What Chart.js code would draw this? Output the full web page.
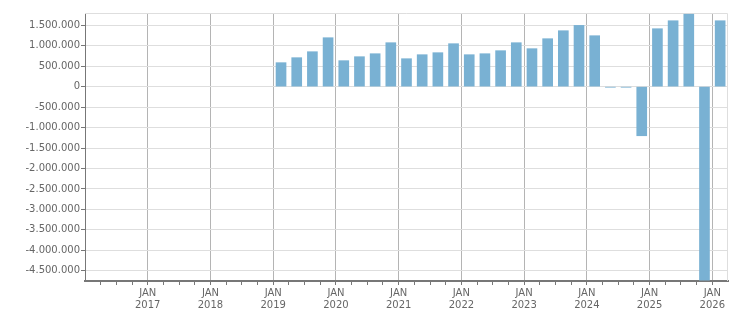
<!DOCTYPE html>
<html>
<head>
<meta charset="utf-8">
<script src="https://cdn.jsdelivr.net/npm/chart.js@4.4.1/dist/chart.umd.min.js"></script>
<style>
  html, body { margin: 0; padding: 0; background: #fff; }
  #wrap { width: 751px; height: 313px; position: relative; }
</style>
</head>
<body>
<div id="wrap"><canvas id="chart"></canvas></div>
<script>
// quarterly values, 2019 Q1 .. 2026 Q1
const quarters = [
  "2019-Q1", "2019-Q2", "2019-Q3", "2019-Q4",
  "2020-Q1", "2020-Q2", "2020-Q3", "2020-Q4",
  "2021-Q1", "2021-Q2", "2021-Q3", "2021-Q4",
  "2022-Q1", "2022-Q2", "2022-Q3", "2022-Q4",
  "2023-Q1", "2023-Q2", "2023-Q3", "2023-Q4",
  "2024-Q1", "2024-Q2", "2024-Q3", "2024-Q4",
  "2025-Q1", "2025-Q2", "2025-Q3", "2025-Q4",
  "2026-Q1",
];
const values = [
  586000, 708000, 854000, 1196000,
  635000, 732000, 805000, 1074000,
  683000, 781000, 830000, 1050000,
  781000, 805000, 879000, 1074000,
  928000, 1172000, 1367000, 1497000,
  1245000, -15000, -15000, -1200000,
  1416000, 1611000, 1770000, -4730000,
  1611000,
];
const yTicks = [1500000, 1000000, 500000, 0, -500000, -1000000, -1500000, -2000000,
  -2500000, -3000000, -3500000, -4000000, -4500000];
const yMin = -4750000;
const yMax = 1800000;
const years = [2017, 2018, 2019, 2020, 2021, 2022, 2023, 2024, 2025, 2026];
const monthLabel = "JAN";
const xMin = 2016;
const xMax = 2026.25;

const BAR_COLOR = "#79b1d3";
const FONT = { family: "'DejaVu Sans', Verdana, sans-serif", size: 10, lineHeight: 1.25 };

function fmt(v) {
  const s = String(Math.abs(v)).replace(/\B(?=(\d{3})+(?!\d))/g, ".");
  return v < 0 ? "-" + s : s;
}

// quarter -> mid of quarter as decimal year
function quarterPos(q) {
  const [y, n] = q.split("-Q");
  return Number(y) + (Number(n) - 1) / 4 + 0.125;
}

const points = quarters.map((q, i) => ({ x: quarterPos(q), y: values[i] }));

const isYear = (v) => Math.abs(v - Math.round(v)) < 1e-6;

// light frame on top and right edge of the plot
const frame = {
  id: "frame",
  beforeDatasetsDraw(chart) {
    const { ctx, chartArea: a } = chart;
    ctx.save();
    ctx.strokeStyle = "#dedede";
    ctx.lineWidth = 1;
    ctx.beginPath();
    ctx.moveTo(a.left, Math.round(a.top) + 0.5);
    ctx.lineTo(Math.round(a.right) - 0.5, Math.round(a.top) + 0.5);
    ctx.lineTo(Math.round(a.right) - 0.5, a.bottom);
    ctx.stroke();
    ctx.restore();
  },
};

new Chart(document.getElementById("chart"), {
  type: "bar",
  data: {
    datasets: [{
      data: points,
      backgroundColor: BAR_COLOR,
      borderWidth: 0,
      barThickness: 10,
    }],
  },
  options: {
    responsive: true,
    maintainAspectRatio: false,
    animation: false,
    layout: { padding: { left: 0, top: 13, right: 23, bottom: 0 } },
    plugins: { legend: { display: false }, tooltip: { enabled: false } },
    scales: {
      x: {
        type: "linear",
        min: xMin,
        max: xMax,
        offset: false,
        afterBuildTicks(scale) {
          const t = [];
          for (let v = xMin + 0.25; v <= years[years.length - 1] + 1e-6; v += 0.25) {
            t.push({ value: Math.round(v * 100) / 100 });
          }
          scale.ticks = t;
        },
        afterFit(scale) { scale.height = 32; },
        grid: {
          offset: false,
          color: (c) => (c.tick && isYear(c.tick.value) ? "#b4b4b4" : "rgba(0,0,0,0)"),
          tickColor: "#777",
          tickLength: 4,
          lineWidth: 1,
        },
        border: { color: "#777", width: 2 },
        ticks: {
          autoSkip: false,
          maxRotation: 0,
          padding: 2,
          color: "#666",
          font: FONT,
          callback: (v) => (isYear(v) && years.includes(Math.round(v)) ? [monthLabel, String(Math.round(v))] : ""),
        },
      },
      y: {
        min: yMin,
        max: yMax,
        afterBuildTicks(scale) {
          scale.ticks = yTicks.map((v) => ({ value: v }));
        },
        afterFit(scale) { scale.width = 85; },
        grid: { color: "#dedede", tickColor: "#777", tickLength: 4 },
        border: { color: "#777", width: 1 },
        ticks: { color: "#666", font: FONT, padding: 1, callback: (v) => fmt(v) },
      },
    },
  },
  plugins: [frame],
});
</script>
</body>
</html>
